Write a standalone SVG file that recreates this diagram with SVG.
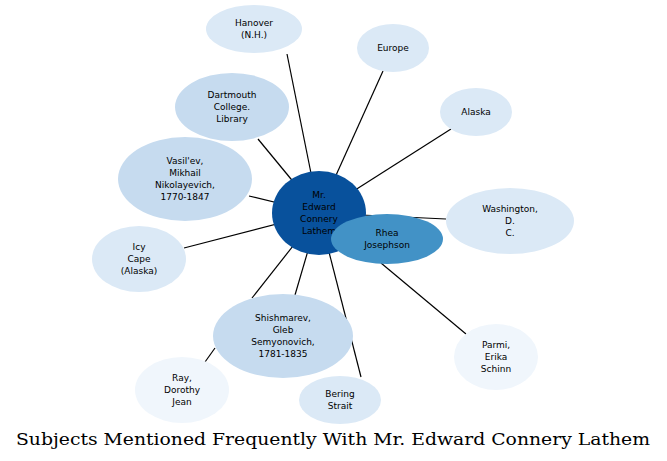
<svg xmlns="http://www.w3.org/2000/svg" width="667" height="461" viewBox="0 0 667 461">
<style>
text{font-family:"DejaVu Sans",sans-serif;font-size:9px;fill:#000;text-anchor:middle}
.e line{stroke:#000;stroke-width:1.2}
.a{fill:#dbe9f6}.b{fill:#c6dbef}.c{fill:#f0f6fc}
</style>
<rect width="667" height="461" fill="#fff"/>
<g class="e">
<line x1="319" y1="213" x2="287" y2="54"/>
<line x1="319" y1="213" x2="383" y2="71"/>
<line x1="319" y1="213" x2="451" y2="129"/>
<line x1="319" y1="213" x2="258" y2="139"/>
<line x1="319" y1="213" x2="249" y2="196"/>
<line x1="319" y1="213" x2="446" y2="219"/>
<line x1="319" y1="213" x2="184" y2="248"/>
<line x1="319" y1="213" x2="252" y2="298"/>
<line x1="319" y1="213" x2="295" y2="295"/>
<line x1="319" y1="213" x2="361" y2="377"/>
<line x1="381" y1="263" x2="466" y2="334"/>
<line x1="205" y1="362" x2="215" y2="348"/>
</g>
<g id="hanover"><ellipse class="a" cx="254" cy="29" rx="48" ry="24"/><text x="254" y="26">Hanover</text><text x="254" y="38">(N.H.)</text></g>
<g id="europe"><ellipse class="a" cx="393" cy="48" rx="36" ry="24"/><text x="393" y="51">Europe</text></g>
<g id="alaska"><ellipse class="a" cx="476" cy="112" rx="36" ry="24"/><text x="476" y="115">Alaska</text></g>
<g id="dartmouth"><ellipse class="b" cx="232" cy="107" rx="57" ry="34"/><text x="232" y="98">Dartmouth</text><text x="232" y="110">College.</text><text x="232" y="122">Library</text></g>
<g id="vasilev"><ellipse class="b" cx="185" cy="179" rx="67" ry="42"/><text x="185" y="164">Vasil'ev,</text><text x="185" y="176">Mikhail</text><text x="185" y="188">Nikolayevich,</text><text x="185" y="200">1770-1847</text></g>
<g id="washington"><ellipse class="a" cx="510" cy="221" rx="64" ry="33"/><text x="510" y="212">Washington,</text><text x="510" y="224">D.</text><text x="510" y="236">C.</text></g>
<g id="icycape"><ellipse class="a" cx="139" cy="259" rx="47" ry="33"/><text x="139" y="250">Icy</text><text x="139" y="262">Cape</text><text x="139" y="274">(Alaska)</text></g>
<g id="shishmarev"><ellipse class="b" cx="283" cy="336" rx="70" ry="42"/><text x="283" y="321">Shishmarev,</text><text x="283" y="333">Gleb</text><text x="283" y="345">Semyonovich,</text><text x="283" y="357">1781-1835</text></g>
<g id="parmi"><ellipse class="c" cx="496" cy="357" rx="42" ry="33"/><text x="496" y="348">Parmi,</text><text x="496" y="360">Erika</text><text x="496" y="372">Schinn</text></g>
<g id="ray"><ellipse class="c" cx="182" cy="390" rx="47" ry="33"/><text x="182" y="381">Ray,</text><text x="182" y="393">Dorothy</text><text x="182" y="405">Jean</text></g>
<g id="bering"><ellipse class="a" cx="340" cy="400" rx="41" ry="24"/><text x="340" y="397">Bering</text><text x="340" y="409">Strait</text></g>
<g id="lathem"><ellipse fill="#08519c" cx="319" cy="213" rx="47" ry="42"/><text x="319" y="198">Mr.</text><text x="319" y="210">Edward</text><text x="319" y="222">Connery</text><text x="319" y="234">Lathem</text></g>
<g id="rhea"><ellipse fill="#4292c6" cx="387" cy="239" rx="56" ry="25"/><text x="387" y="236">Rhea</text><text x="387" y="248">Josephson</text></g>
<text x="333" y="445" textLength="634" lengthAdjust="spacingAndGlyphs" style="font-family:'DejaVu Serif',serif;font-size:17px">Subjects Mentioned Frequently With Mr. Edward Connery Lathem</text>
</svg>
